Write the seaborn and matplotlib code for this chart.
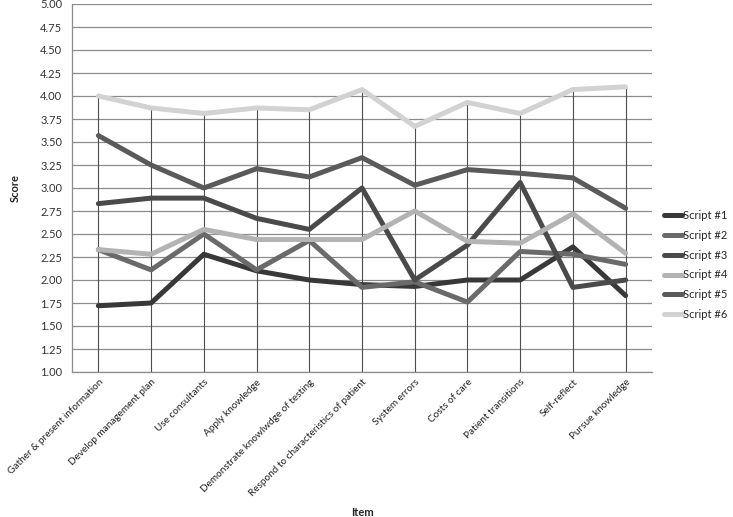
import pandas as pd
import numpy as np
import matplotlib
matplotlib.use("Agg")
import matplotlib.pyplot as plt
import seaborn as sns

items = ["Gather & present information", "Develop management plan", "Use consultants",
         "Apply knowledge", "Demonstrate knowlwdge of testing",
         "Respond to characteristics of patient", "System errors", "Costs of care",
         "Patient transitions", "Self-reflect", "Pursue knowledge"]

script1 = [1.72, 1.75, 2.28, 2.10, 2.00, 1.95, 1.93, 2.00, 2.00, 2.36, 1.83]
script2 = [2.33, 2.11, 2.50, 2.11, 2.43, 1.92, 1.98, 1.76, 2.31, 2.28, 2.17]
script3 = [2.83, 2.89, 2.89, 2.67, 2.55, 3.00, 2.00, 2.38, 3.06, 1.92, 2.00]
script4 = [2.33, 2.28, 2.55, 2.44, 2.44, 2.44, 2.75, 2.42, 2.40, 2.72, 2.29]
script5 = [3.57, 3.25, 3.00, 3.21, 3.12, 3.33, 3.03, 3.20, 3.16, 3.11, 2.78]
script6 = [4.00, 3.87, 3.81, 3.87, 3.85, 4.07, 3.67, 3.93, 3.81, 4.07, 4.10]

series_names = ["Script #1", "Script #2", "Script #3", "Script #4", "Script #5", "Script #6"]
series_values = [script1, script2, script3, script4, script5, script6]
colors = ["#383838", "#6a6a6a", "#4a4a4a", "#b3b3b3", "#5a5a5a", "#d2d2d2"]

rows = []
for name, vals in zip(series_names, series_values):
    for item, v in zip(items, vals):
        rows.append({"Item": item, "Score": v, "Script": name})
df = pd.DataFrame(rows)

sns.set_style("white")
plt.rcParams["font.family"] = ["Lato", "DejaVu Sans"]

fig = plt.figure(figsize=(7.33, 5.17), dpi=100)
ax = fig.add_axes([72 / 733, 1 - 372 / 517, 580 / 733, 368 / 517])

# gridlines
ax.set_ylim(1, 5)
ax.set_yticks(np.arange(1, 5.01, 0.25))
ax.yaxis.grid(True, color="#8c8c8c", linewidth=0.9)
ax.set_axisbelow(True)

# drop lines from axis up to the highest series
x_pos = np.arange(len(items))
tops = np.max(np.array(series_values), axis=0)
ax.vlines(x_pos, 1, tops, color="#4d4d4d", linewidth=0.8, zorder=1)

sns.lineplot(data=df, x="Item", y="Score", hue="Script", palette=colors,
             sort=False, linewidth=3.6, ax=ax, legend=True, zorder=3)
for ln in ax.get_lines():
    ln.set_solid_capstyle("round")
    ln.set_solid_joinstyle("round")

ax.set_xlim(-0.5, len(items) - 0.5)
ax.set_yticklabels([f"{t:.2f}" for t in np.arange(1, 5.01, 0.25)], fontsize=8, color="#333333")
ax.set_xticks(x_pos)
ax.set_xticklabels(items, rotation=45, ha="right", rotation_mode="anchor",
                   fontsize=7.2, color="#222222")
ax.tick_params(axis="y", length=4, width=0.8, color="#8c8c8c", pad=3)
ax.tick_params(axis="x", length=0, pad=4)

for s in ["top", "right"]:
    ax.spines[s].set_visible(False)
for s in ["left", "bottom"]:
    ax.spines[s].set_color("#8c8c8c")
    ax.spines[s].set_linewidth(0.9)

ax.set_xlabel("")
ax.set_ylabel("")
fig.text(15 / 733, 1 - 188 / 517, "Score", rotation=90, fontsize=8, fontweight="bold",
         ha="center", va="center")
fig.text(363 / 733, 1 - 512 / 517, "Item", fontsize=8, fontweight="bold",
         ha="center", va="center")

handles, labels = ax.get_legend_handles_labels()
ax.get_legend().remove()
leg = fig.legend(handles, labels, loc="center left", bbox_to_anchor=(664 / 733, 1 - 265 / 517),
                 frameon=False, fontsize=8, handlelength=1.6, handletextpad=0.1,
                 labelspacing=0.8, borderpad=0, borderaxespad=0)
for h in leg.get_lines():
    h.set_linewidth(3.6)

fig.savefig("out.png", dpi=100)
